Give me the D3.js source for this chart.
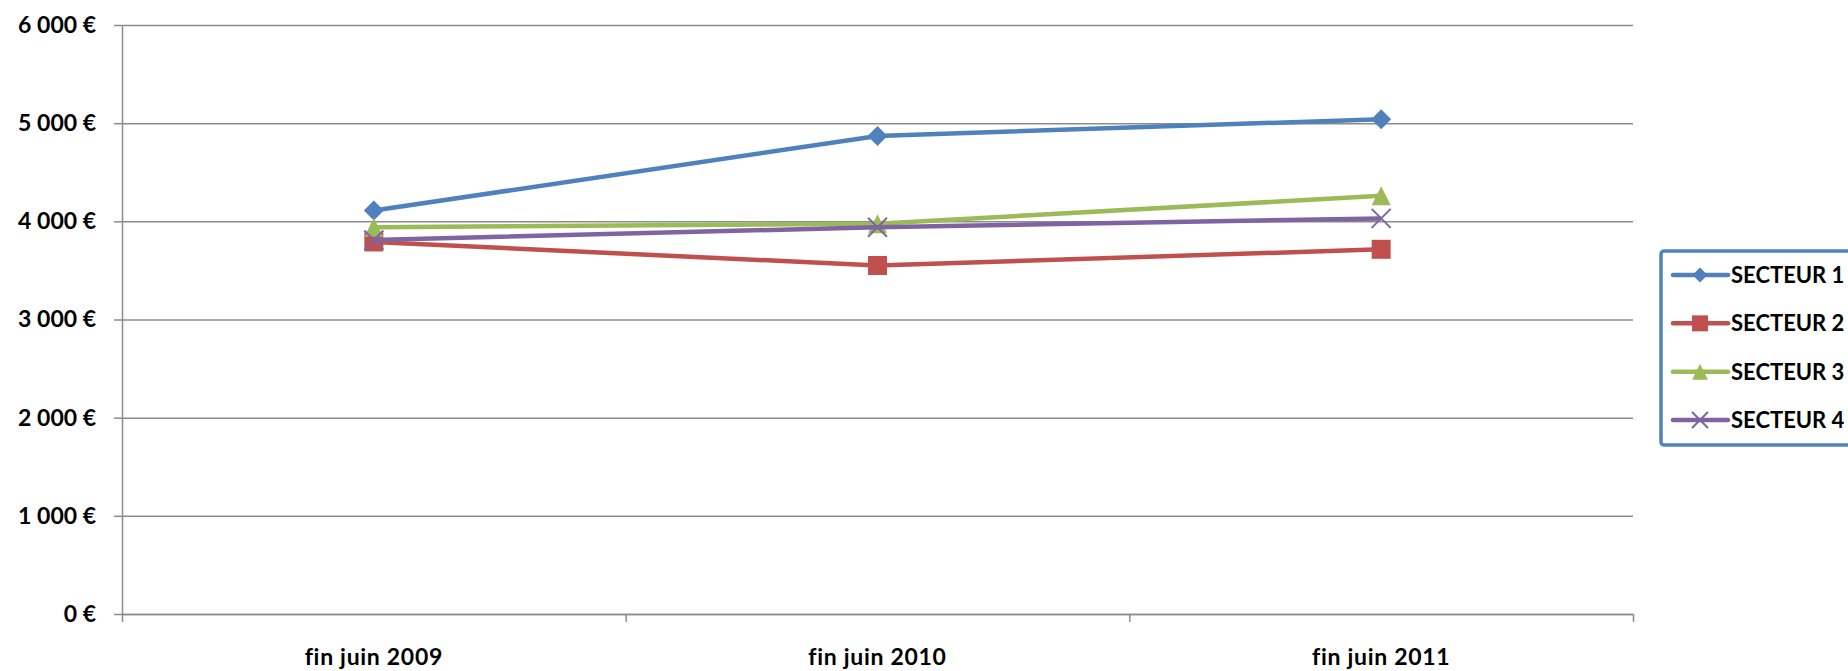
<!DOCTYPE html>
<html>
<head>
<meta charset="utf-8">
<script src="https://cdn.jsdelivr.net/npm/d3@7"></script>
<style>
  body { margin: 0; background: #fff; overflow: hidden; }
  text { font-family: Lato, "Open Sans", sans-serif; font-weight: bold; fill: #000; }
</style>
</head>
<body>
<div id="root"></div>
<script>
const categories = ["fin juin 2009", "fin juin 2010", "fin juin 2011"];
const seriesNames = ["SECTEUR 1", "SECTEUR 2", "SECTEUR 3", "SECTEUR 4"];
const secteur1 = [4110, 4870, 5040];
const secteur2 = [3790, 3550, 3715];
const secteur3 = [3940, 3975, 4260];
const secteur4 = [3810, 3940, 4030];
const yTicks = [0, 1000, 2000, 3000, 4000, 5000, 6000];

const colors = ["#4F81BD", "#C0504D", "#9BBB59", "#8064A2"];
const markers = ["diamond", "square", "triangle", "cross"];

const width = 1848;
const height = 671;
const plotLeft = 122, plotRight = 1633, plotTop = 25, plotBottom = 614;

var svg = d3.select("#root").append("svg")
  .attr("width", width)
  .attr("height", height);

var x = d3.scaleBand()
  .domain(categories)
  .range([plotLeft, plotRight]);

var y = d3.scaleLinear()
  .domain([0, 6000])
  .range([plotBottom, plotTop]);

var fr = d3.formatLocale({ decimal: ",", thousands: " ", grouping: [3], currency: ["", " €"] });
var euro = fr.format("$,.0f");

// gridlines
svg.append("g")
  .attr("transform", "translate(" + plotLeft + ",0)")
  .call(d3.axisLeft(y).tickValues(yTicks).tickSize(-(plotRight - plotLeft)).tickFormat(""))
  .call(g => g.select(".domain").remove())
  .call(g => g.selectAll("line").attr("stroke", "#8c8c8c").attr("stroke-width", 1.5));

// y axis
svg.append("g")
  .attr("transform", "translate(" + plotLeft + ",0)")
  .call(d3.axisLeft(y).tickValues(yTicks).tickSize(8).tickSizeOuter(0).tickPadding(18).tickFormat(euro))
  .call(g => g.select(".domain").attr("stroke", "#8c8c8c").attr("stroke-width", 1.5))
  .call(g => g.selectAll("line").attr("stroke", "#8c8c8c").attr("stroke-width", 1.5))
  .call(g => g.selectAll("text").attr("font-size", 23).attr("font-family", null));

// x axis: ticks on band edges, labels at centers
var edges = d3.scaleLinear().domain([0, categories.length]).range([plotLeft, plotRight]);
svg.append("g")
  .attr("transform", "translate(0," + plotBottom + ")")
  .call(d3.axisBottom(edges).tickValues(d3.range(categories.length + 1)).tickSize(8).tickSizeOuter(0).tickFormat(""))
  .call(g => g.select(".domain").attr("stroke", "#8c8c8c").attr("stroke-width", 1.5))
  .call(g => g.selectAll("line").attr("stroke", "#8c8c8c").attr("stroke-width", 1.5));

svg.append("g").selectAll("text")
  .data(categories)
  .enter().append("text")
  .attr("x", d => x(d) + x.bandwidth() / 2)
  .attr("y", 665)
  .attr("text-anchor", "middle")
  .attr("font-size", 23)
  .attr("letter-spacing", 0.7)
  .text(d => d);

function markerPath(type, s) {
  var h = s / 2;
  if (type == "diamond") return "M0," + (-h) + "L" + h + ",0L0," + h + "L" + (-h) + ",0Z";
  if (type == "square") return "M" + (-h) + "," + (-h) + "h" + s + "v" + s + "h" + (-s) + "Z";
  if (type == "triangle") return "M0," + (-h) + "L" + h + "," + h + "L" + (-h) + "," + h + "Z";
  return "M" + (-h) + "," + (-h) + "L" + h + "," + h + "M" + h + "," + (-h) + "L" + (-h) + "," + h;
}

function drawMarker(g, type, color, s) {
  g.append("path")
    .attr("d", markerPath(type, s))
    .attr("fill", type == "cross" ? "none" : color)
    .attr("stroke", type == "cross" ? color : "none")
    .attr("stroke-width", 2);
}

var allSeries = [secteur1, secteur2, secteur3, secteur4];

var line = d3.line()
  .x((d, i) => x(categories[i]) + x.bandwidth() / 2)
  .y(d => y(d));

allSeries.forEach((values, k) => {
  var g = svg.append("g");
  g.append("path")
    .datum(values)
    .attr("d", line)
    .attr("fill", "none")
    .attr("stroke", colors[k])
    .attr("stroke-width", 4.5)
    .attr("stroke-linejoin", "round");
  values.forEach((v, i) => {
    var m = g.append("g")
      .attr("transform", "translate(" + (x(categories[i]) + x.bandwidth() / 2) + "," + y(v) + ")");
    drawMarker(m, markers[k], colors[k], k == 0 ? 20 : 19);
  });
});

// legend (box runs past the right edge, as in the original)
var legend = svg.append("g").attr("id", "legend");
legend.append("rect")
  .attr("x", 1661)
  .attr("y", 251)
  .attr("width", 260)
  .attr("height", 194)
  .attr("rx", 3)
  .attr("fill", "#fff")
  .attr("stroke", "#4F81BD")
  .attr("stroke-width", 3.5);

var ly = d3.scalePoint().domain(seriesNames).range([275, 420]);

seriesNames.forEach((name, k) => {
  var row = legend.append("g").attr("transform", "translate(0," + ly(name) + ")");
  row.append("line")
    .attr("x1", 1673).attr("x2", 1728)
    .attr("stroke", colors[k])
    .attr("stroke-width", 4.5)
    .attr("stroke-linecap", "round");
  var m = row.append("g").attr("transform", "translate(1700,0)");
  drawMarker(m, markers[k], colors[k], k == 0 ? 15 : 16);
  row.append("text")
    .attr("x", 1731)
    .attr("dy", "0.36em")
    .attr("font-size", 22)
    .text(name);
});
</script>
</body>
</html>
